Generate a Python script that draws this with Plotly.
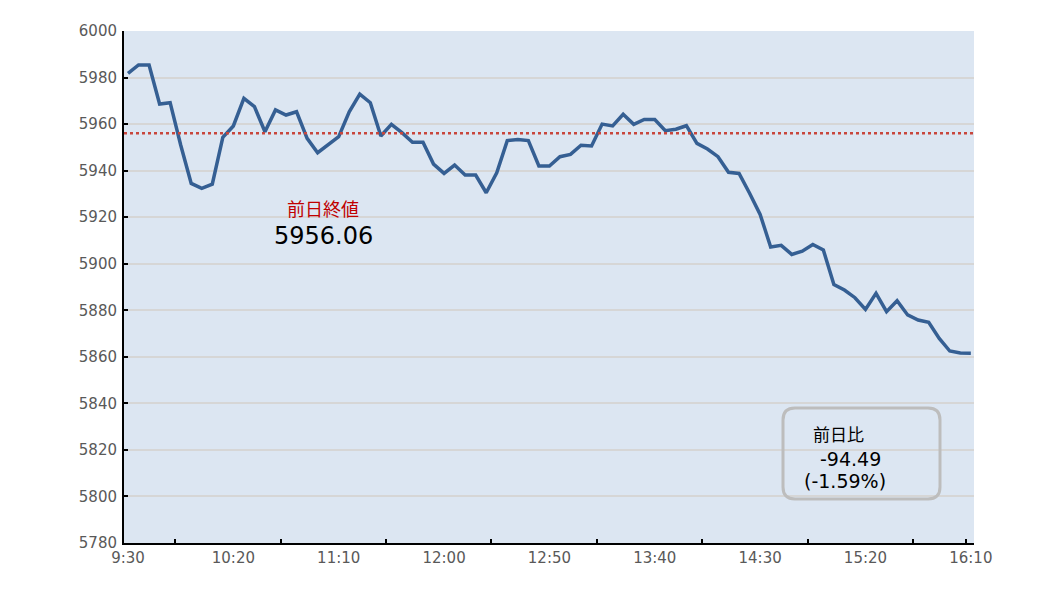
import plotly.graph_objects as go

# 5-minute bars, 9:30 -> 16:10
times = [f"{(570 + 5 * i) // 60}:{(570 + 5 * i) % 60:02d}" for i in range(81)]
prices = [
    5981.8, 5985.4, 5985.4, 5968.6, 5969.2, 5951.0, 5934.5, 5932.4, 5934.2, 5954.3,
    5959.2, 5971.1, 5967.5, 5956.7, 5966.1, 5963.9, 5965.3, 5953.9, 5947.7, 5951.0,
    5954.6, 5965.3, 5972.9, 5969.2, 5954.9, 5959.9, 5956.3, 5952.2, 5952.2, 5942.8,
    5938.8, 5942.4, 5938.1, 5938.1, 5930.5, 5939.1, 5952.9, 5953.4, 5952.9, 5942.0,
    5942.0, 5946.0, 5947.0, 5950.9, 5950.6, 5960.0, 5959.2, 5964.2, 5959.9, 5962.0,
    5962.0, 5957.2, 5957.8, 5959.3, 5951.7, 5949.3, 5946.0, 5939.3, 5938.8, 5930.3,
    5921.2, 5907.2, 5907.9, 5904.0, 5905.4, 5908.3, 5905.9, 5891.1, 5888.7, 5885.4,
    5880.4, 5887.3, 5879.4, 5884.1, 5878.0, 5875.8, 5874.8, 5867.9, 5862.5, 5861.6,
    5861.57,
]
prev_close = 5956.06
change = -94.49
change_pct = -1.59

label_idx = list(range(0, 81, 10))
tick_idx = [4.5, 14.5, 24.5, 34.5, 44.5, 54.5, 64.5, 74.5, 79.5]

FONT = "DejaVu Sans, Noto Sans CJK JP"
x_idx = list(range(len(prices)))

fig = go.Figure()
fig.add_trace(go.Scatter(
    x=x_idx, y=prices, mode="lines",
    line=dict(color="#355f93", width=3.5),
    hoverinfo="skip", showlegend=False,
))

# 前日終値 の点線
fig.add_shape(type="line", xref="paper", x0=0, x1=1, yref="y", y0=prev_close, y1=prev_close,
              line=dict(color="#c8463c", width=2.5, dash="dot"))

# 前日比ボックス (角丸)
def rounded_box(x0, y0, x1, y1, rx, ry):
    return (f"M {x0+rx},{y1} L {x1-rx},{y1} Q {x1},{y1} {x1},{y1-ry} "
            f"L {x1},{y0+ry} Q {x1},{y0} {x1-rx},{y0} "
            f"L {x0+rx},{y0} Q {x0},{y0} {x0},{y0+ry} "
            f"L {x0},{y1-ry} Q {x0},{y1} {x0+rx},{y1} Z")

fig.add_shape(type="path", xref="paper", yref="paper",
              path=rounded_box(0.7753, 0.0859, 0.96, 0.2637, 0.0141, 0.0234),
              line=dict(color="#bdbdbd", width=3))

fig.add_annotation(x=0.234, y=0.655, xref="paper", yref="paper", xanchor="center", yanchor="middle",
                   text="前日終値", showarrow=False,
                   font=dict(family="Noto Sans CJK JP", size=18, color="#c00000"))
fig.add_annotation(x=0.235, y=0.599, xref="paper", yref="paper", xanchor="center", yanchor="middle",
                   text=f"{prev_close:.2f}", showarrow=False,
                   font=dict(family=FONT, size=24, color="#000000"))

fig.add_annotation(x=0.8077, y=0.211, xref="paper", yref="paper", xanchor="left", yanchor="middle",
                   text="前日比", showarrow=False,
                   font=dict(family=FONT, size=17, color="#000000"))
fig.add_annotation(x=0.8159, y=0.164, xref="paper", yref="paper", xanchor="left", yanchor="middle",
                   text=f"{change:.2f}", showarrow=False, font=dict(family=FONT, size=19, color="#000000"))
fig.add_annotation(x=0.7977, y=0.121, xref="paper", yref="paper", xanchor="left", yanchor="middle",
                   text=f"({change_pct:.2f}%)", showarrow=False, font=dict(family=FONT, size=19, color="#000000"))

# page body has an 8px margin: shrink the figure so the plot area lands where the reference has it
fig.update_layout(
    width=1030, height=590,
    margin=dict(l=116, r=64, t=23, b=55),
    paper_bgcolor="#ffffff",
    plot_bgcolor="#dce6f2",
    font=dict(family=FONT, size=15, color="#595959"),
    showlegend=False,
)
fig.update_xaxes(
    range=[-0.38, 80.3],
    tickmode="array", tickvals=label_idx, ticktext=[times[i] for i in label_idx],
    ticks="", showgrid=False, zeroline=False,
    showline=True, linecolor="#000000", linewidth=2,
    tickfont=dict(size=15, color="#595959"),
    minor=dict(tickmode="array", tickvals=tick_idx, ticks="inside", ticklen=4,
               tickwidth=2, tickcolor="#000000", showgrid=False),
)
fig.update_yaxes(
    range=[5780, 6000], dtick=20, tick0=5780,
    showgrid=True, gridcolor="#d6d6d6", gridwidth=1.5, zeroline=False,
    showline=True, linecolor="#000000", linewidth=2,
    ticks="inside", ticklen=4, tickwidth=2, tickcolor="#000000",
    tickfont=dict(size=15, color="#595959"),
    ticklabelstandoff=2,
)

fig.write_html("out.html")
